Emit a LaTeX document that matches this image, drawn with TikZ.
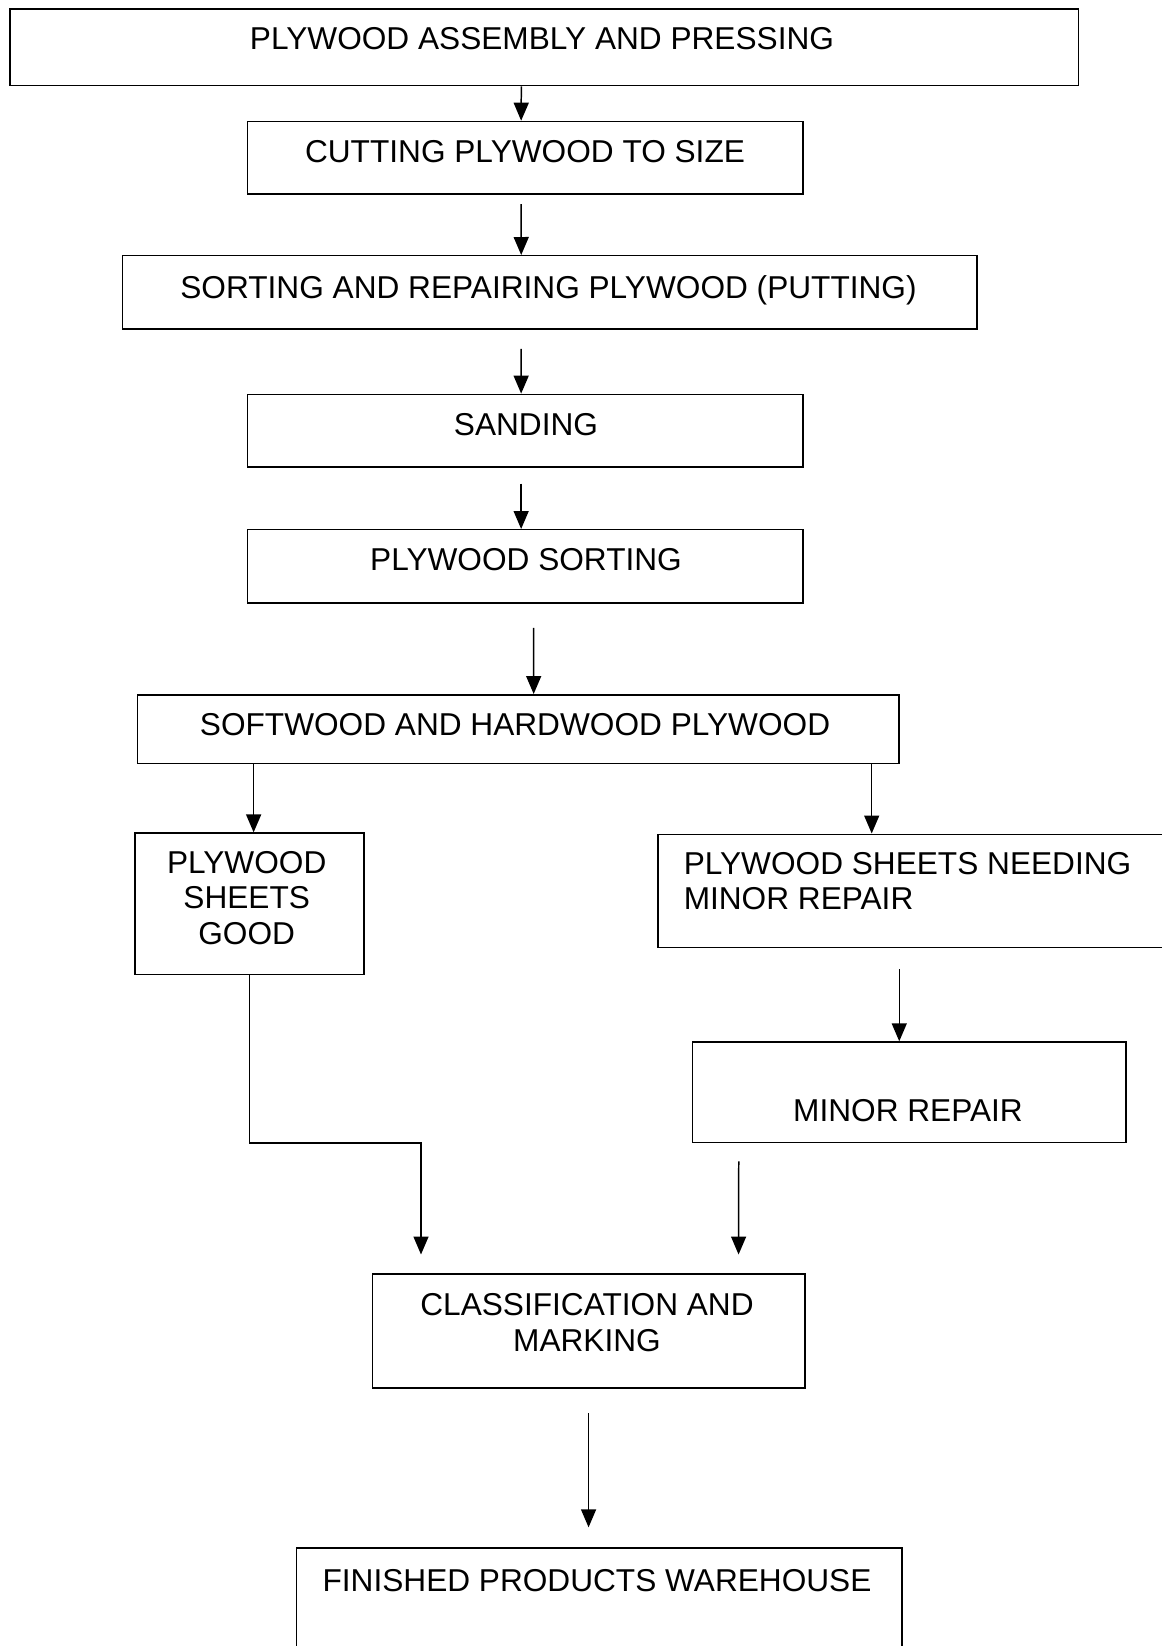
\documentclass[tikz,border=0pt]{standalone}
\usepackage{fontspec}
\setmainfont{Liberation Sans}
\usetikzlibrary{arrows.meta}
\tikzset{
	box/.style={draw,line width=0.85pt,inner sep=0,anchor=north west},
	txt/.style={inner sep=0,anchor=north,align=center,font=\fontsize{18}{20.3}\selectfont},
	arr/.style={line width=0.85pt,-{Triangle[length=0.36cm,width=0.3cm]}}
}
\begin{document}
\begin{tikzpicture}[x=0.02cm,y=-0.02cm]
	\fill[white] (0,0) rectangle (1161,1646);
	\useasboundingbox (0,0) rectangle (1161,1646);
	\node[box,minimum width=21.37cm,minimum height=1.53cm] at (9.4,8.4) (asm) {};
	\node[box,minimum width=11.11cm,minimum height=1.45cm] at (246.7,120.7) (cut) {};
	\node[box,minimum width=17.09cm,minimum height=1.47cm] at (121.8,255) (rep) {};
	\node[box,minimum width=11.11cm,minimum height=1.45cm] at (246.7,393.6) (sand) {};
	\node[box,minimum width=11.11cm,minimum height=1.47cm] at (246.7,529) (sort) {};
	\node[box,minimum width=15.24cm,minimum height=1.38cm] at (136.5,694) (sw) {};
	\node[box,minimum width=4.58cm,minimum height=2.83cm] at (134.4,832.4) (good) {};
	\node[box,minimum width=10.2cm,minimum height=2.27cm] at (657,833.5) (needs) {};
	\node[box,minimum width=8.67cm,minimum height=2.01cm] at (691.8,1041.3) (minor) {};
	\node[box,minimum width=8.65cm,minimum height=2.29cm] at (371.6,1273) (class) {};
	\node[box,minimum width=12.11cm,minimum height=2.25cm] at (296,1547.3) (ware) {};
	\node[txt] at (542,27.4) (asmtxt) {PLYWOOD ASSEMBLY AND PRESSING};
	\node[txt] at (525,139.6) (cuttxt) {CUTTING PLYWOOD TO SIZE};
	\node[txt] at (548.5,275.2) (reptxt) {SORTING AND REPAIRING PLYWOOD (PUTTING)};
	\node[txt] at (526,412.6) (sandtxt) {SANDING};
	\node[txt] at (526,548) (sorttxt) {PLYWOOD SORTING};
	\node[txt] at (515,712.7) (swtxt) {SOFTWOOD AND HARDWOOD PLYWOOD};
	\node[txt] at (246.7,850.6) (goodtxt) {PLYWOOD\\SHEETS\\GOOD};
	\node[txt,anchor=north west,align=left] at (683.4,851.6) (needstxt) {PLYWOOD SHEETS NEEDING\\MINOR REPAIR};
	\node[txt] at (908,1099.2) (minortxt) {MINOR REPAIR};
	\node[txt] at (587,1293.4) (classtxt) {CLASSIFICATION AND\\MARKING};
	\node[txt] at (597,1568.6) (waretxt) {FINISHED PRODUCTS WAREHOUSE};
	\coordinate (bend) at (421,1143);
	\draw[arr] ([xshift=-0.46cm]asm.south) -- ([xshift=-0.08cm]cut.north);
	\draw[arr,shorten <=0.19cm] ([xshift=-0.08cm]cut.south) -- ([xshift=-0.57cm]rep.north);
	\draw[arr,shorten <=0.38cm] ([xshift=-0.57cm]rep.south) -- ([xshift=-0.08cm]sand.north);
	\draw[arr,shorten <=0.32cm] ([xshift=-0.08cm]sand.south) -- ([xshift=-0.08cm]sort.north);
	\draw[arr,shorten <=0.48cm] ([xshift=0.17cm]sort.south) -- ([xshift=0.31cm]sw.north);
	\draw[arr] ([xshift=0.08cm]good.north |- sw.south) -- ([xshift=0.08cm]good.north);
	\draw[arr] ([xshift=-0.82cm]needs.north |- sw.south) -- ([xshift=-0.82cm]needs.north);
	\draw[arr,shorten <=0.42cm] ([xshift=-0.2cm]minor.north |- needs.south) -- ([xshift=-0.2cm]minor.north);
	\draw[arr,shorten >=0.37cm] (good.south) |- (bend) -- (bend |- class.north);
	\draw[arr,shorten <=0.36cm,shorten >=0.37cm] ([xshift=-3.41cm]minor.south) -- ([xshift=3cm]class.north);
	\draw[arr,shorten <=0.49cm,shorten >=0.4cm] (class.south) -- (class.south |- ware.north);
\end{tikzpicture}
\end{document}
